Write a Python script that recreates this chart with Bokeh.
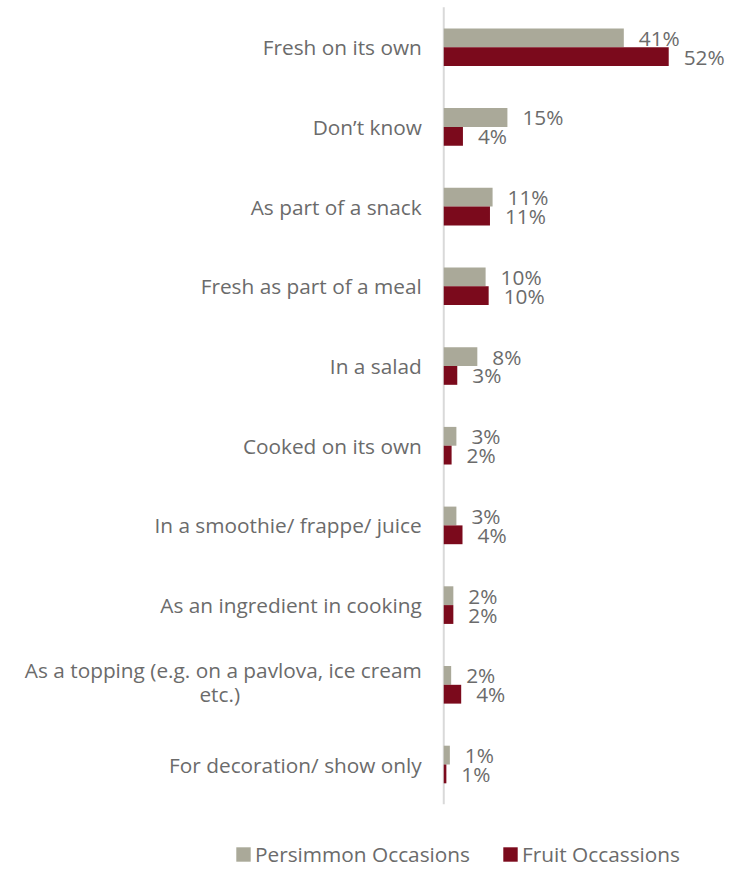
from bokeh.plotting import figure
from bokeh.models import Range1d, ColumnDataSource, Legend, LegendItem
from bokeh.core.properties import value
from bokeh.embed import file_html
from bokeh.resources import INLINE

categories = [
    "Fresh on its own",
    "Don\u2019t know",
    "As part of a snack",
    "Fresh as part of a meal",
    "In a salad",
    "Cooked on its own",
    "In a smoothie/ frappe/ juice",
    "As an ingredient in cooking",
    "As a topping (e.g. on a pavlova, ice cream\netc.)",
    "For decoration/ show only",
]
persimmon = [41.3, 14.6, 11.2, 9.6, 7.7, 2.9, 2.9, 2.2, 1.7, 1.4]
fruit = [51.6, 4.4, 10.6, 10.3, 3.1, 1.8, 4.3, 2.2, 4.0, 0.6]
series_names = ["Persimmon Occasions", "Fruit Occassions"]

FONT = "Open Sans"
FSIZE = "20.8px"
TXT = "#6b6b6b"
C_PERS = "#aaa999"
C_FRUIT = "#7b0a1c"
BAR_H = 0.236
OFF = BAR_H / 2

n = len(categories)
idx = list(range(n))
src = ColumnDataSource(dict(
    y_p=[i - OFF for i in idx],
    y_f=[i + OFF for i in idx],
    p=persimmon,
    f=fruit,
    lp=[f"{v:.0f}%" for v in persimmon],
    lf=[f"{v:.0f}%" for v in fruit],
))

p = figure(width=731, height=872,
           x_range=Range1d(-101.67, 66.0),
           y_range=Range1d(10.355, -0.586),
           output_backend="svg", toolbar_location=None,
           x_axis_location=None, y_axis_location=None,
           min_border=0, outline_line_color=None)
p.grid.visible = False
p.background_fill_color = "white"

p.segment(x0=[0], y0=[-0.5], x1=[0], y1=[n - 0.5],
          line_color="#d9d9d9", line_width=2)

rp = p.hbar(y="y_p", left=0, right="p", height=BAR_H, source=src,
            fill_color=C_PERS, line_color=None)
rf = p.hbar(y="y_f", left=0, right="f", height=BAR_H, source=src,
            fill_color=C_FRUIT, line_color=None)

common = dict(text_font=value(FONT), text_font_size=FSIZE,
              text_color=TXT, text_baseline="middle")
p.text(x="p", y="y_p", text="lp", x_offset=15, text_align="left",
       source=src, **common)
p.text(x="f", y="y_f", text="lf", x_offset=15, text_align="left",
       source=src, **common)

# category labels
one_y, one_t = [], []
two_y1, two_t1, two_y2, two_t2 = [], [], [], []
for i, c in enumerate(categories):
    lines = c.split("\n")
    if len(lines) == 1:
        one_y.append(i)
        one_t.append(c)
    else:
        two_y1.append(i - 0.19)
        two_t1.append(lines[0])
        two_y2.append(i + 0.12)
        two_t2.append(lines[1])

p.text(x=[0] * len(one_y), y=one_y, text=one_t, x_offset=-22,
       text_align="right", **common)
p.text(x=[0] * len(two_y1), y=two_y1, text=two_t1, x_offset=-22,
       text_align="right", **common)
p.text(x=[0] * len(two_y2), y=two_y2, text=two_t2, x_offset=-224,
       text_align="center", **common)

legend = Legend(items=[LegendItem(label=series_names[0], renderers=[rp]),
                       LegendItem(label=series_names[1], renderers=[rf])],
                orientation="horizontal", location=(234, 4),
                glyph_width=18, glyph_height=18, label_standoff=3,
                spacing=31, padding=0, margin=0,
                border_line_color=None, background_fill_alpha=0,
                label_text_font=FONT, label_text_font_size=FSIZE,
                label_text_color=TXT)
p.add_layout(legend)

open("out.html", "w").write(file_html(p, INLINE))
